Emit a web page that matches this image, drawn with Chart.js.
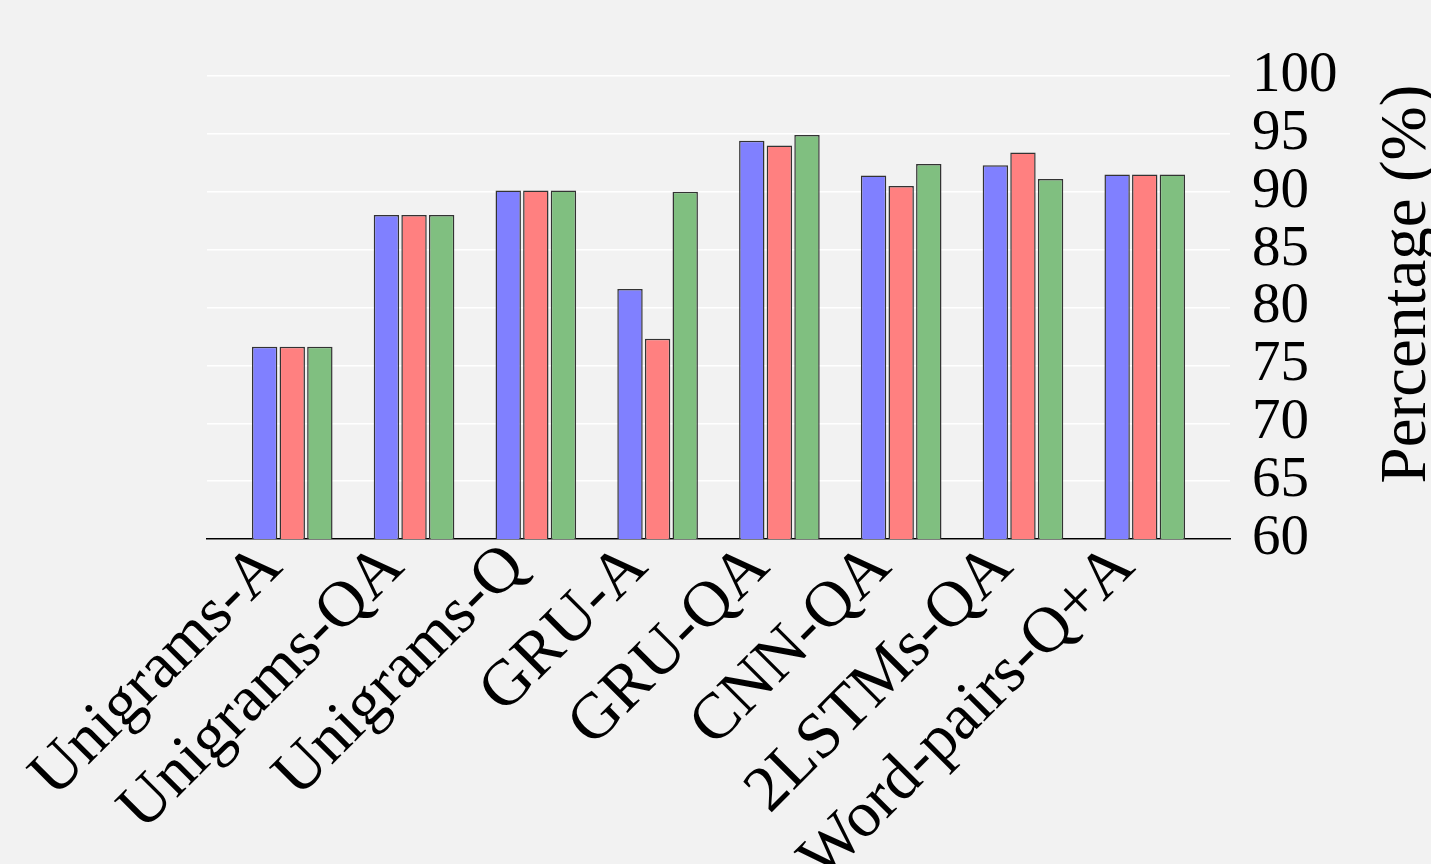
<!DOCTYPE html>
<html>
<head>
<meta charset="utf-8">
<script src="https://cdn.jsdelivr.net/npm/chart.js@4.4.0/dist/chart.umd.min.js"></script>
<style>
    html, body { margin: 0; padding: 0; background: #f2f2f2; }
    #wrap { width: 1431px; height: 864px; position: relative; }
</style>
</head>
<body>
<div id="wrap"><canvas id="barChart"></canvas></div>
<script>
// Model names along the x axis
const categories = ['Unigrams-A', 'Unigrams-QA', 'Unigrams-Q', 'GRU-A', 'GRU-QA', 'CNN-QA', '2LSTMs-QA', 'Word-pairs-Q+A'];

// Three series (values in %)
const blueValues  = [76.6, 88.0, 90.1, 81.6, 94.4, 91.4, 92.3, 91.5];
const redValues   = [76.6, 88.0, 90.1, 77.3, 94.0, 90.5, 93.4, 91.5];
const greenValues = [76.6, 88.0, 90.1, 90.0, 94.9, 92.4, 91.1, 91.5];

// Y tick labels
const yTicks = [60, 65, 70, 75, 80, 85, 90, 95, 100];
const yTitle = 'Percentage (%)';

const serif = "'Liberation Serif', 'Times New Roman', serif";

// Turn a list of values into {x, y} points on the index axis
function toPoints(values) {
    return values.map((v, i) => ({ x: i, y: v }));
}

// Rotated category labels under the axis and the y title on the right
const labelPlugin = {
    id: 'extraText',
    afterDraw(chart) {
        const ctx = chart.ctx;
        const xScale = chart.scales.x;
        const bottom = chart.chartArea.bottom;

        ctx.save();
        ctx.fillStyle = '#000';
        ctx.font = `65px ${serif}`;
        ctx.textAlign = 'right';
        ctx.textBaseline = 'alphabetic';
        categories.forEach((label, i) => {
            const x = xScale.getPixelForValue(i);
            ctx.save();
            ctx.translate(x - 8, bottom + 30);
            ctx.rotate(-Math.PI / 4);
            ctx.fillText(label, 0, 0);
            ctx.restore();
        });
        ctx.restore();

        ctx.save();
        ctx.translate(1425, 284);
        ctx.rotate(-Math.PI / 2);
        ctx.fillStyle = '#000';
        ctx.font = `65px ${serif}`;
        ctx.textAlign = 'center';
        ctx.textBaseline = 'alphabetic';
        ctx.fillText(yTitle, 0, 0);
        ctx.restore();
    }
};

const ctx = document.getElementById('barChart').getContext('2d');
const barChart = new Chart(ctx, {
    type: 'bar',
    data: {
        datasets: [
            { data: toPoints(blueValues),  backgroundColor: '#8080ff' },
            { data: toPoints(redValues),   backgroundColor: '#ff8080' },
            { data: toPoints(greenValues), backgroundColor: '#80bf80' }
        ]
    },
    options: {
        responsive: true,
        maintainAspectRatio: false,
        animation: false,
        layout: { padding: { left: 207, top: 76, right: 0, bottom: 0 } },
        datasets: {
            bar: {
                borderColor: '#333',
                borderWidth: 1.5,
                borderSkipped: false,
                categoryPercentage: 0.68,
                barPercentage: 0.92
            }
        },
        plugins: {
            legend: { display: false },
            tooltip: { enabled: false }
        },
        scales: {
            x: {
                type: 'linear',
                offset: false,
                min: -0.7,
                max: categories.length - 0.3,
                afterBuildTicks: axis => {
                    axis.ticks = categories.map((_, i) => ({ value: i }));
                },
                afterFit: axis => { axis.height = 864 - 539; },
                grid: { display: false, drawTicks: false },
                border: { display: true, color: '#000', width: 1.5 },
                ticks: { display: false }
            },
            y: {
                position: 'right',
                min: 60,
                max: 100,
                afterBuildTicks: axis => {
                    axis.ticks = yTicks.map(v => ({ value: v }));
                },
                afterFit: axis => { axis.width = 1431 - 1230; },
                grid: { color: '#ffffff', lineWidth: 1.5, drawTicks: false },
                border: { display: false },
                ticks: {
                    autoSkip: false,
                    padding: 22,
                    color: '#000',
                    font: { family: serif, size: 57 }
                }
            }
        }
    },
    plugins: [labelPlugin]
});
</script>
</body>
</html>
